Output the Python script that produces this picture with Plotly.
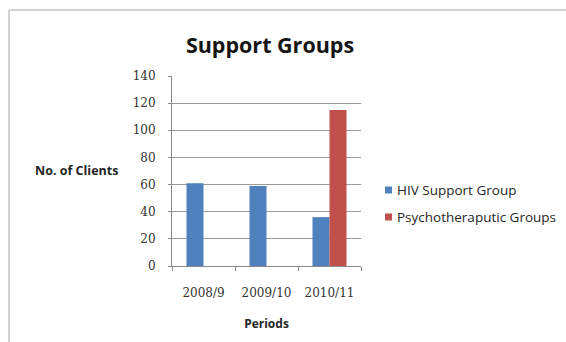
import plotly.graph_objects as go

periods = ["2008/9", "2009/10", "2010/11"]
hiv_support = [61, 59, 36]
psychotherapeutic = [None, None, 115]
y_ticks = [0, 20, 40, 60, 80, 100, 120, 140]
series_names = ["HIV Support Group", "Psychotheraputic Groups"]
series_colors = ["#4F81BD", "#C0504D"]

W, H = 566, 342
L, R, T, B = 172, 205, 76, 76
PW, PH = W - L - R, H - T - B


def px_x(p):
    return (p - L) / PW


def px_y(p):
    return (H - B - p) / PH


fig = go.Figure()
for name, vals, col in zip(series_names, [hiv_support, psychotherapeutic], series_colors):
    fig.add_trace(go.Bar(x=periods, y=vals, name=name,
                         marker=dict(color=col, line=dict(width=0))))

fig.update_layout(
    width=W, height=H,
    margin=dict(l=L, r=R, t=T, b=B),
    paper_bgcolor="white", plot_bgcolor="white",
    barmode="group", bargap=0.46, bargroupgap=0,
    title=dict(text="<b>Support Groups</b>", xref="container", x=270 / W,
               xanchor="center", y=1 - 45 / H, yanchor="middle",
               font=dict(family="Open Sans", size=21.5, color="#151515")),
    showlegend=False,
    xaxis=dict(type="category", showline=True, linecolor="#8a8a8a", linewidth=1,
               ticks="outside", tickson="boundaries", ticklen=4, tickcolor="#8a8a8a",
               ticklabelstandoff=16,
               tickfont=dict(family="DejaVu Serif", size=12, color="#333333"),
               showgrid=False,
               title=dict(text="<b>Periods</b>", standoff=20,
                          font=dict(family="Open Sans", size=12, color="#262626"))),
    yaxis=dict(range=[0, 140], tickvals=y_ticks, showline=True, linecolor="#8a8a8a",
               linewidth=1, ticks="outside", ticklen=3, tickcolor="#8a8a8a",
               ticklabelstandoff=10,
               showgrid=True, gridcolor="#9a9a9a", gridwidth=1, zeroline=False,
               tickfont=dict(family="DejaVu Serif", size=12, color="#333333")),
)

# horizontal y-axis caption
fig.add_annotation(text="<b>No. of Clients</b>", xref="paper", yref="paper",
                   x=px_x(33), y=px_y(170), xanchor="left", yanchor="middle",
                   showarrow=False,
                   font=dict(family="Open Sans", size=12.5, color="#262626"))

# legend entries
for i, (name, col) in enumerate(zip(series_names, series_colors)):
    yc = px_y(190 + 27 * i)
    fig.add_shape(type="rect", xref="paper", yref="paper",
                  x0=px_x(385), x1=px_x(392), y0=yc - 3.5 / PH, y1=yc + 3.5 / PH,
                  fillcolor=col, line=dict(width=0))
    fig.add_annotation(text=name, xref="paper", yref="paper",
                       x=px_x(395), y=yc, xanchor="left", yanchor="middle",
                       showarrow=False,
                       font=dict(family="Open Sans", size=13.5, color="#262626"))

# chart area border (top and left edges)
fig.add_shape(type="line", xref="paper", yref="paper",
              x0=px_x(9), x1=px_x(W), y0=px_y(10), y1=px_y(10),
              line=dict(color="#c4c4c4", width=1.5))
fig.add_shape(type="line", xref="paper", yref="paper",
              x0=px_x(9), x1=px_x(9), y0=px_y(10), y1=px_y(H),
              line=dict(color="#c4c4c4", width=1.5))

fig.write_html("out.html")
